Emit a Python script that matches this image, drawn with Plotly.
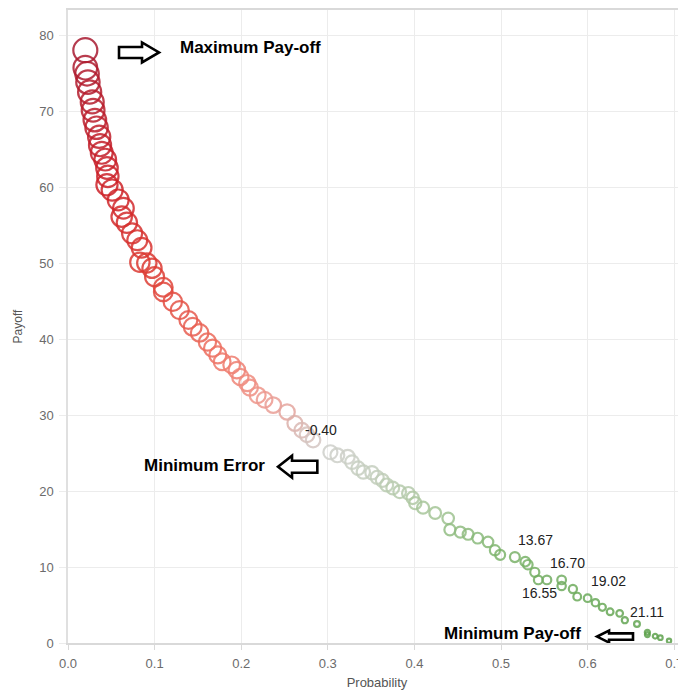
import numpy as np
import plotly.graph_objects as go

# ---- data ----
probability = [0.020, 0.020, 0.022, 0.023, 0.025, 0.028, 0.029, 0.031, 0.033, 0.036,
               0.037, 0.039, 0.043, 0.045, 0.046, 0.045, 0.051, 0.058, 0.064, 0.062,
               0.068, 0.074, 0.080, 0.085, 0.083, 0.091, 0.097, 0.100, 0.110, 0.110,
               0.121, 0.129, 0.139, 0.144, 0.152, 0.161, 0.167, 0.173, 0.178, 0.189,
               0.195, 0.199, 0.207, 0.210, 0.219, 0.227, 0.237, 0.253, 0.262, 0.270,
               0.276, 0.283, 0.303, 0.311, 0.323, 0.328, 0.335, 0.341, 0.351, 0.357,
               0.363, 0.368, 0.375, 0.383, 0.393, 0.398, 0.401, 0.410, 0.424, 0.439,
               0.441, 0.453, 0.462, 0.473, 0.485, 0.493, 0.499, 0.516, 0.528, 0.531,
               0.539, 0.543, 0.553, 0.570, 0.570, 0.583, 0.588, 0.600, 0.609, 0.617,
               0.626, 0.637, 0.643, 0.657, 0.669, 0.669, 0.678, 0.684, 0.694]
payoff = [78.0, 75.7, 74.9, 73.8, 72.5, 71.2, 70.1, 68.8, 67.8, 66.6,
          65.5, 64.5, 63.6, 62.5, 61.4, 60.3, 59.6, 58.3, 57.2, 56.1,
          55.3, 53.9, 53.0, 52.0, 50.1, 50.0, 49.3, 48.2, 46.8, 46.2,
          44.9, 43.8, 42.5, 41.6, 40.8, 39.6, 38.8, 37.9, 37.0, 36.6,
          35.9, 35.0, 34.2, 33.6, 32.6, 32.0, 31.3, 30.4, 28.9, 28.0,
          27.4, 26.7, 25.1, 24.7, 24.5, 23.8, 23.0, 22.5, 22.4, 21.8,
          21.4, 20.8, 20.4, 19.9, 19.7, 19.1, 18.4, 17.8, 17.1, 16.4,
          14.9, 14.6, 14.3, 13.8, 13.3, 12.2, 11.6, 11.3, 10.7, 10.3,
          9.3, 8.3, 8.3, 8.3, 7.5, 7.1, 6.1, 5.9, 5.3, 4.7,
          4.1, 3.9, 3.0, 2.5, 1.4, 1.1, 0.9, 0.7, 0.3]

value_labels = ["-0.40", "13.67", "16.70", "16.55", "19.02", "21.11"]
label_x = [0.2714, 0.517, 0.554, 0.522, 0.602, 0.647]
label_y = [28.0, 13.55, 10.5, 6.58, 8.16, 4.08]

callouts = ["Maximum Pay-off", "Minimum Error", "Minimum Pay-off"]
callout_x = [0.127, 0.0854, 0.432]
callout_y = [78.4, 23.4, 1.3]

x_ticks = [0.0, 0.1, 0.2, 0.3, 0.4, 0.5, 0.6, 0.7]
x_ticklabels = ["0.0", "0.1", "0.2", "0.3", "0.4", "0.5", "0.6", "0.7"]
y_ticks = [0, 10, 20, 30, 40, 50, 60, 70, 80]

# ---- figure ----
pay = np.array(payoff)
sizes = np.sqrt(16 + 7.18 * pay)  # size encoding (diameter)

colorscale = [
    [0.00, "#5ba04a"], [0.15, "#7bb36a"], [0.22, "#a3c495"], [0.28, "#c2cebb"],
    [0.33, "#d0cfcd"], [0.37, "#dcb0aa"], [0.42, "#f09488"], [0.50, "#ec6b5c"],
    [0.62, "#dd3c33"], [0.78, "#cc2027"], [1.00, "#a81a30"],
]

fig = go.Figure()
fig.add_trace(go.Scatter(
    x=probability, y=payoff, mode="markers",
    marker=dict(symbol="circle-open", size=sizes, color=payoff,
                colorscale=colorscale, cmin=0, cmax=78,
                line=dict(width=2.2), opacity=0.85),
    showlegend=False, hoverinfo="x+y",
))

X_RANGE = [0, 0.7136]
Y_RANGE = [0, 83.29]
PW, PH = 618, 633
dxp = (X_RANGE[1] - X_RANGE[0]) / PW
dyp = (Y_RANGE[1] - Y_RANGE[0]) / PH


def arrow_path(tail_x, tip_x, yc, head_len_px, shaft_h_px, head_h_px):
    d = 1 if tip_x > tail_x else -1
    base = tip_x - d * head_len_px * dxp
    sh = shaft_h_px * dyp
    hh = head_h_px * dyp
    pts = [(tail_x, yc - sh), (base, yc - sh), (base, yc - hh), (tip_x, yc),
           (base, yc + hh), (base, yc + sh), (tail_x, yc + sh)]
    return "M " + " L ".join(f"{px:.5f},{py:.4f}" for px, py in pts) + " Z"


arrows = [
    (0.0589, 0.1051, 77.7, 17, 5.5, 10),
    (0.2879, 0.2425, 23.2, 14, 6, 11),
    (0.6524, 0.6109, 0.85, 12, 3.2, 6),
]
for tx, px_, yc, hl, sh, hh in arrows:
    fig.add_shape(type="path", path=arrow_path(tx, px_, yc, hl, sh, hh),
                  xref="x", yref="y", line=dict(color="black", width=2.6),
                  fillcolor="white", layer="above")

for t, x, y in zip(value_labels, label_x, label_y):
    fig.add_annotation(x=x, y=y, text=t, showarrow=False, xanchor="left",
                       yanchor="middle",
                       font=dict(family="Liberation Sans, Arial, sans-serif",
                                 size=14, color="#222222"))

for t, x, y in zip(callouts, callout_x, callout_y):
    fig.add_annotation(x=x, y=y, text=f"<b>{t}</b>", showarrow=False,
                       xanchor="left", yanchor="middle",
                       font=dict(family="Liberation Sans, Arial, sans-serif",
                                 size=17, color="#000000"))

tickfont = dict(family="Liberation Sans Narrow, Arial Narrow, Liberation Sans, Arial, sans-serif",
                size=13, color="#6b6b6b")

# page body has an 8px margin: compensate so the plot area sits where the reference has it
fig.update_layout(
    width=678, height=682,
    margin=dict(l=60, r=0, t=2, b=47),
    paper_bgcolor="white", plot_bgcolor="white",
    xaxis=dict(range=X_RANGE, tickvals=x_ticks, ticktext=x_ticklabels,
               showgrid=True, gridcolor="#ececec", gridwidth=1,
               zeroline=False, showline=True, linecolor="#d9d9d9", linewidth=1.5,
               mirror=True,
               ticks="outside", ticklen=5, tickcolor="#d9d9d9",
               tickfont=tickfont, ticklabelstandoff=3,
               title=dict(text="Probability", standoff=8,
                          font=dict(family="Liberation Sans Narrow, Arial Narrow, Liberation Sans, Arial",
                                    size=13, color="#555555")),
               automargin=False),
    yaxis=dict(range=Y_RANGE, tickvals=y_ticks,
               showgrid=True, gridcolor="#ececec", gridwidth=1,
               zeroline=False, showline=True, linecolor="#e0e0e0", linewidth=1.5,
               ticks="outside", ticklen=7, tickcolor="#ececec",
               tickfont=tickfont, ticklabelstandoff=3,
               title=dict(text="Payoff", standoff=14,
                          font=dict(family="Liberation Sans Narrow, Arial Narrow, Liberation Sans, Arial",
                                    size=12, color="#555555")),
               automargin=False),
)

fig.write_html("out.html")
